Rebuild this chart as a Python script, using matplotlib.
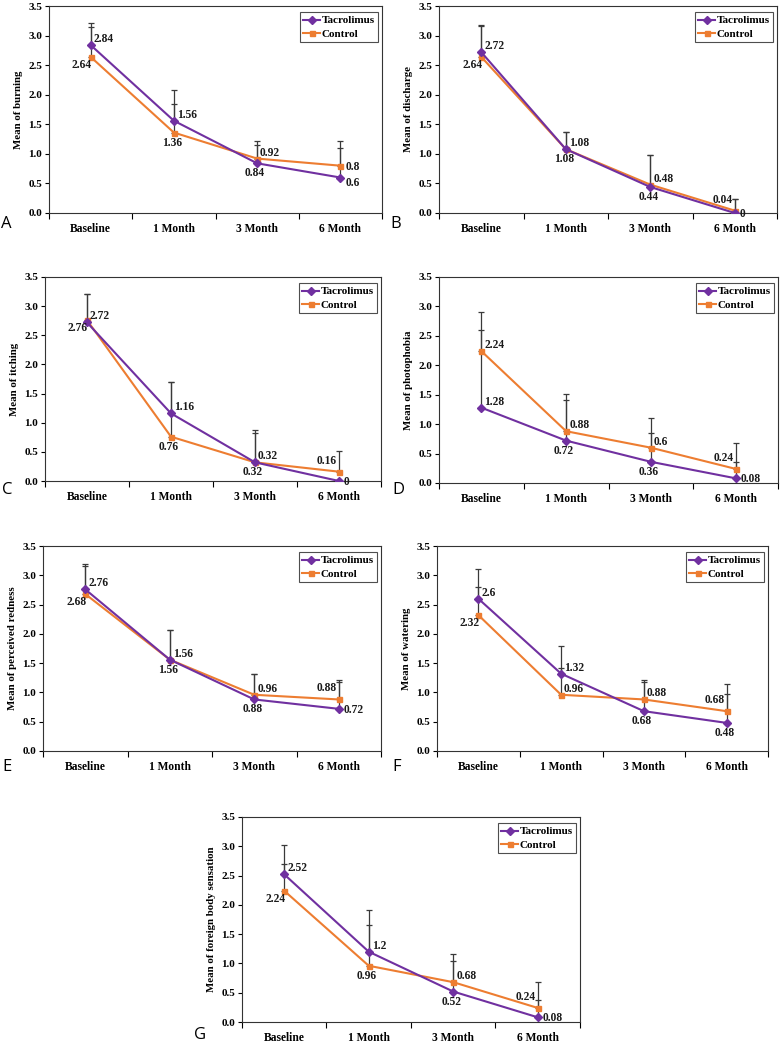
import matplotlib
matplotlib.use('Agg')
import matplotlib.pyplot as plt

W, H = 781, 1043
DPI = 100

categories = ['Baseline', '1 Month', '3 Month', '6 Month']
series_names = ['Tacrolimus', 'Control']

# Panel A - burning
burning_tac = [2.84, 1.56, 0.84, 0.6]
burning_ctl = [2.64, 1.36, 0.92, 0.8]
burning_tac_sd = [0.38, 0.52, 0.31, 0.50]
burning_ctl_sd = [0.51, 0.49, 0.29, 0.41]

# Panel B - discharge
discharge_tac = [2.72, 1.08, 0.44, 0]
discharge_ctl = [2.64, 1.08, 0.48, 0.04]
discharge_tac_sd = [0.46, 0.29, 0.54, 0.24]
discharge_ctl_sd = [0.52, 0.29, 0.50, 0.20]

# Panel C - itching
itching_tac = [2.72, 1.16, 0.32, 0]
itching_ctl = [2.76, 0.76, 0.32, 0.16]
itching_tac_sd = [0.48, 0.54, 0.55, 0.0]
itching_ctl_sd = [0.44, 0.94, 0.50, 0.36]

# Panel D - photophobia
photophobia_tac = [1.28, 0.72, 0.36, 0.08]
photophobia_ctl = [2.24, 0.88, 0.6, 0.24]
photophobia_tac_sd = [1.32, 0.69, 0.49, 0.28]
photophobia_ctl_sd = [0.67, 0.63, 0.50, 0.44]

# Panel E - perceived redness
redness_tac = [2.76, 1.56, 0.88, 0.72]
redness_ctl = [2.68, 1.56, 0.96, 0.88]
redness_tac_sd = [0.44, 0.51, 0.43, 0.45]
redness_ctl_sd = [0.48, 0.51, 0.35, 0.33]

# Panel F - watering
watering_tac = [2.6, 1.32, 0.68, 0.48]
watering_ctl = [2.32, 0.96, 0.88, 0.68]
watering_tac_sd = [0.50, 0.48, 0.50, 0.50]
watering_ctl_sd = [0.48, 0.45, 0.33, 0.47]

# Panel G - foreign body sensation
foreign_tac = [2.52, 1.2, 0.52, 0.08]
foreign_ctl = [2.24, 0.96, 0.68, 0.24]
foreign_tac_sd = [0.51, 0.71, 0.52, 0.29]
foreign_ctl_sd = [0.45, 0.69, 0.48, 0.44]

y_ticks = [0.0, 0.5, 1.0, 1.5, 2.0, 2.5, 3.0, 3.5]

# layout (pixels): left, right, top, bottom ; letter position
panels = [
    dict(letter='A', ylabel='Mean of burning', tac=burning_tac, ctl=burning_ctl,
         tsd=burning_tac_sd, csd=burning_ctl_sd, box=(49, 382, 6, 213), lpos=(1, 224),
         tpl=['ur', 'ur', 'b', 'lr'], cpl=['ll', 'b', 'ur', 'r']),
    dict(letter='B', ylabel='Mean of discharge', tac=discharge_tac, ctl=discharge_ctl,
         tsd=discharge_tac_sd, csd=discharge_ctl_sd, box=(439, 777, 6, 213), lpos=(390, 224),
         tpl=['ur', 'b', 'b', 'r'], cpl=['ll', 'ur', 'ur', 'ul']),
    dict(letter='C', ylabel='Mean of itching', tac=itching_tac, ctl=itching_ctl,
         tsd=itching_tac_sd, csd=itching_ctl_sd, box=(45, 381, 277, 481), lpos=(2, 490),
         tpl=['ur', 'ur', 'b', 'r'], cpl=['ll', 'b', 'ur', 'ul']),
    dict(letter='D', ylabel='Mean of photophobia', tac=photophobia_tac, ctl=photophobia_ctl,
         tsd=photophobia_tac_sd, csd=photophobia_ctl_sd, box=(439, 778, 277, 483), lpos=(392, 490),
         tpl=['ur', 'b', 'b', 'r'], cpl=['ur', 'ur', 'ur', 'ul']),
    dict(letter='E', ylabel='Mean of perceived redness', tac=redness_tac, ctl=redness_ctl,
         tsd=redness_tac_sd, csd=redness_ctl_sd, box=(43, 381, 546, 751), lpos=(2, 767),
         tpl=['ur', 'ur', 'b', 'r'], cpl=['ll', 'b', 'ur', 'ul']),
    dict(letter='F', ylabel='Mean of watering', tac=watering_tac, ctl=watering_ctl,
         tsd=watering_tac_sd, csd=watering_ctl_sd, box=(437, 768, 546, 751), lpos=(392, 767),
         tpl=['ur', 'ur', 'b', 'b'], cpl=['ll', 'ur', 'ur', 'ul']),
    dict(letter='G', ylabel='Mean of foreign body sensation', tac=foreign_tac, ctl=foreign_ctl,
         tsd=foreign_tac_sd, csd=foreign_ctl_sd, box=(242, 580, 817, 1022), lpos=(194, 1035),
         tpl=['ur', 'ur', 'b', 'r'], cpl=['ll', 'b', 'ur', 'ul']),
]

PURPLE = '#7030A0'
ORANGE = '#ED7D31'
SERIF = ['Liberation Serif', 'DejaVu Serif']

# label placement: (dx px, dy px, ha, va)
PLACE = {
    'ur': (3, 6, 'left', 'center'),
    'll': (1, -8, 'right', 'center'),
    'b': (-2, -10, 'center', 'center'),
    'r': (5, -1, 'left', 'center'),
    'lr': (5, -5, 'left', 'center'),
    'ul': (-2, 11, 'right', 'center'),
}

fig = plt.figure(figsize=(W / DPI, H / DPI), dpi=DPI)
fig.patch.set_facecolor('white')


def px2pt(v):
    return v * 72.0 / DPI


for p in panels:
    l, r, t, b = p['box']
    ax = fig.add_axes([l / W, 1 - b / H, (r - l) / W, (b - t) / H])
    x = list(range(len(categories)))
    zeros = [0] * len(categories)
    ax.errorbar(x, p['tac'], yerr=[zeros, p['tsd']], fmt='none', ecolor='#3a3a3a',
                elinewidth=0.9, capsize=2, capthick=0.9, zorder=2)
    ax.errorbar(x, p['ctl'], yerr=[zeros, p['csd']], fmt='none', ecolor='#3a3a3a',
                elinewidth=0.9, capsize=2, capthick=0.9, zorder=2)
    ax.plot(x, p['tac'], color=PURPLE, lw=1.5, marker='D', ms=3.8, mec=PURPLE,
            mfc=PURPLE, label=series_names[0], zorder=4)
    ax.plot(x, p['ctl'], color=ORANGE, lw=1.5, marker='s', ms=3.6, mec=ORANGE,
            mfc=ORANGE, label=series_names[1], zorder=3)

    for vals, plc in ((p['tac'], p['tpl']), (p['ctl'], p['cpl'])):
        for xi, v, code in zip(x, vals, plc):
            dx, dy, ha, va = PLACE[code]
            ax.annotate(f'{v:g}', (xi, v), xytext=(px2pt(dx), px2pt(dy)),
                        textcoords='offset points', ha=ha, va=va,
                        fontsize=8.3, fontweight='bold', family=SERIF, color='#1a1a1a',
                        zorder=5)

    ax.set_xlim(-0.5, len(categories) - 0.5)
    ax.set_ylim(0, 3.5)
    ax.set_yticks(y_ticks)
    ax.set_yticklabels([f'{v:.1f}' for v in y_ticks], fontsize=8, fontweight='bold',
                       family=SERIF)
    ax.set_xticks([i - 0.5 for i in range(len(categories) + 1)])
    ax.set_xticklabels([])
    ax.set_xticks(x, minor=True)
    ax.set_xticklabels(categories, minor=True, fontsize=8.3, fontweight='bold',
                       family=SERIF)
    ax.tick_params(axis='x', which='minor', length=0, pad=7)
    ax.tick_params(axis='x', which='major', length=4, width=0.8, direction='out')
    ax.tick_params(axis='y', length=3, width=0.8, direction='out', pad=2)
    for s in ax.spines.values():
        s.set_linewidth(0.8)
        s.set_color('#333333')
    ax.set_ylabel(p['ylabel'], fontsize=7.8, fontweight='bold', family=SERIF, labelpad=4)
    leg = ax.legend(loc='upper right', bbox_to_anchor=(0.995, 0.98),
                    prop={'family': SERIF, 'weight': 'bold', 'size': 8},
                    frameon=True, fancybox=False, handlelength=1.5, handletextpad=0.15,
                    borderpad=0.3, labelspacing=0.35, borderaxespad=0.2)
    leg.get_frame().set_edgecolor('#222222')
    leg.get_frame().set_linewidth(0.8)
    lx, ly = p['lpos']
    fig.text(lx / W, 1 - ly / H, p['letter'], fontsize=12, family=['Open Sans', 'DejaVu Sans'],
             ha='left', va='center')

fig.savefig('out.png', dpi=DPI)
